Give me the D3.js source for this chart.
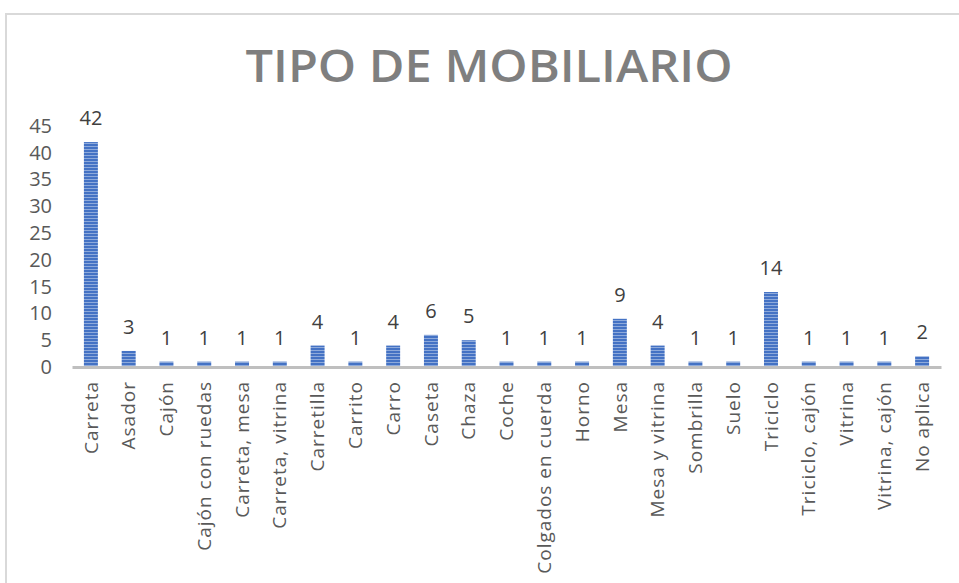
<!DOCTYPE html>
<html><head><meta charset="utf-8">
<script src="https://cdn.jsdelivr.net/npm/d3@7"></script>
<style>body{margin:0;background:#fff}svg{display:block}</style>
</head><body>
<svg id="c" width="959" height="583"></svg>
<script>
const categories = ["Carreta","Asador","Cajón","Cajón con ruedas","Carreta, mesa","Carreta, vitrina","Carretilla","Carrito","Carro","Caseta","Chaza","Coche","Colgados en cuerda","Horno","Mesa","Mesa y vitrina","Sombrilla","Suelo","Triciclo","Triciclo, cajón","Vitrina","Vitrina, cajón","No aplica"];
const values = [42,3,1,1,1,1,4,1,4,6,5,1,1,1,9,4,1,1,14,1,1,1,2];
const yTicks = [0,5,10,15,20,25,30,35,40,45];
const title = "TIPO DE MOBILIARIO";

const svg = d3.select("#c");
const font = "'Open Sans', 'Liberation Sans', sans-serif";

// frame
svg.append("path").attr("d","M6,583 V14 H959").attr("fill","none").attr("stroke","#d9d9d9").attr("stroke-width",2);

// pattern
const defs = svg.append("defs");
const pat = defs.append("pattern").attr("id","stripes").attr("patternUnits","userSpaceOnUse").attr("width",8).attr("height",3);
pat.append("rect").attr("width",8).attr("height",3).attr("fill","#4472c4");
pat.append("rect").attr("y",2).attr("width",8).attr("height",1).attr("fill","#8eaadb");

const x = d3.scaleBand().domain(categories).range([72,941]).paddingInner(0.63).paddingOuter(0.315);
const y = d3.scaleLinear().domain([0,45]).range([367,126]);

// title
svg.append("text").attr("x",489).attr("y",82).attr("text-anchor","middle")
  .attr("font-family",font).attr("font-weight",600).attr("font-size",46)
  .attr("fill","#7f7f7f").attr("textLength",487).attr("lengthAdjust","spacingAndGlyphs").text(title);

// y axis
const ya = svg.append("g").attr("transform","translate(72,0)")
  .call(d3.axisLeft(y).tickValues(yTicks).tickSize(0).tickPadding(20));
ya.select(".domain").remove();
ya.selectAll("text").attr("font-family",font).attr("font-size",20).attr("fill","#595959");

// bars
svg.append("g").selectAll("rect").data(values).join("rect")
  .attr("x",(d,i)=>x(categories[i])).attr("width",x.bandwidth())
  .attr("y",d=>y(d)).attr("height",d=>y(0)-y(d))
  .attr("fill","url(#stripes)");

// data labels
svg.append("g").selectAll("text").data(values).join("text")
  .attr("x",(d,i)=>x(categories[i])+x.bandwidth()/2).attr("y",d=>y(d)-17)
  .attr("text-anchor","middle").attr("font-family",font).attr("font-size",20).attr("fill","#404040")
  .text(d=>d);

// x axis
const xa = svg.append("g").attr("transform","translate(0,367)")
  .call(d3.axisBottom(x).tickSize(0).tickPadding(0));
xa.select(".domain").attr("stroke","#bfbfbf").attr("stroke-width",3);
xa.selectAll("text").attr("font-family",font).attr("font-size",19).attr("fill","#595959")
  .attr("letter-spacing","1px")
  .attr("text-anchor","end").attr("dy","0.35em")
  .attr("transform","translate(0,14) rotate(-90)").attr("x",0).attr("y",0);
</script>
</body></html>
